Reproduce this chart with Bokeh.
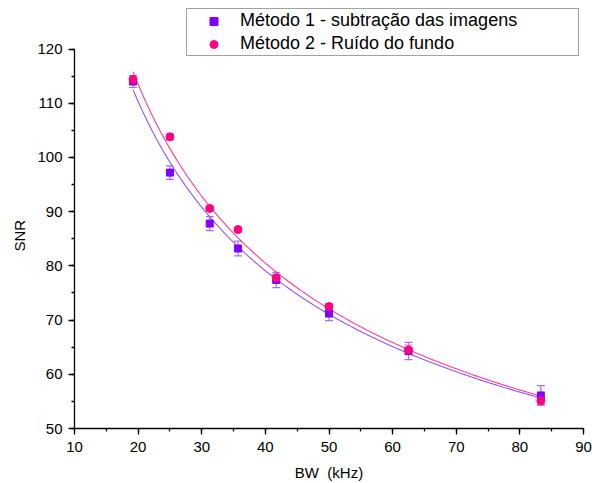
import numpy as np
from bokeh.plotting import figure
from bokeh.models import (Range1d, SingleIntervalTicker, Whisker, ColumnDataSource,
                          Legend, LegendItem, TeeHead, Title)
from bokeh.embed import file_html
from bokeh.resources import INLINE

# ---- data ----
bw = [19.2, 25.0, 31.25, 35.7, 41.7, 50.0, 62.5, 83.3]
snr_m1 = [114.0, 97.2, 87.8, 83.2, 77.4, 71.2, 64.3, 56.1]
err_m1 = [1.1, 1.25, 1.3, 1.35, 1.4, 1.3, 1.6, 1.8]
snr_m2 = [114.4, 103.8, 90.6, 86.7, 77.8, 72.5, 64.5, 55.1]
err_m2 = [0.7, 0.5, 0.4, 0.4, 0.6, 0.5, 0.9, 0.7]
# power-law fit curves  SNR = A * BW**B  (parameters)
fit_m1 = [464.7, -0.480]
fit_m2 = [501.0, -0.4956]
label_m1 = "Método 1 - subtração das imagens"
label_m2 = "Método 2 - Ruído do fundo"
x_label = "BW \u00a0(kHz)"
y_label = "SNR"

FONT = "Liberation Sans"
C1 = "#8000FF"
C2 = "#FF0080"
L1 = "#9650FF"
L2 = "#FF3C96"

W, H = 592, 483
FRAME_BOTTOM = 429
p = figure(width=W, height=H, output_backend="svg", toolbar_location=None,
           min_border_left=74, min_border_right=9, min_border_top=0,
           min_border_bottom=H - FRAME_BOTTOM)
p.x_range = Range1d(10, 90)
p.y_range = Range1d(50, 50 + FRAME_BOTTOM / 5.434)
p.outline_line_color = None
p.xgrid.visible = False
p.ygrid.visible = False
p.background_fill_color = "white"
p.border_fill_color = "white"

for ax, bounds in ((p.xaxis, (10, 90)), (p.yaxis, (50, 120))):
    ax.ticker = SingleIntervalTicker(interval=10, num_minor_ticks=2)
    ax.bounds = bounds
    ax.axis_line_color = "black"
    ax.axis_line_width = 1.3
    ax.major_tick_line_color = "black"
    ax.major_tick_line_width = 1.3
    ax.minor_tick_line_color = "black"
    ax.minor_tick_line_width = 1.3
    ax.major_tick_in = 0
    ax.major_tick_out = 6
    ax.minor_tick_in = 0
    ax.minor_tick_out = 3
    ax.major_label_text_font = FONT
    ax.major_label_text_font_size = "15px"
    ax.major_label_text_color = "black"
    ax.axis_label_text_font = FONT
    ax.axis_label_text_font_size = "15px"
    ax.axis_label_text_font_style = "normal"
    ax.axis_label_text_color = "black"

p.xaxis.axis_label = x_label
p.xaxis.major_label_standoff = 7
p.xaxis.axis_label_standoff = 9
p.yaxis.major_label_standoff = 6

# y-axis title centred on the drawn axis (50..120) rather than on the whole frame
ytitle = Title(text=y_label, align="left", vertical_align="top", offset=177,
               standoff=10, text_font=FONT, text_font_size="15px",
               text_font_style="normal", text_color="black")
p.add_layout(ytitle, "left")

# ---- fit curves ----
xs = np.linspace(min(bw), max(bw), 300)
fit1 = fit_m1[0] * xs ** fit_m1[1]
fit2 = fit_m2[0] * xs ** fit_m2[1]

p.line(xs, fit1, line_color=L1, line_width=1.1)
p.line(xs, fit2, line_color=L2, line_width=1.1)

src1 = ColumnDataSource(dict(x=bw, y=snr_m1,
                             lo=[v - e for v, e in zip(snr_m1, err_m1)],
                             hi=[v + e for v, e in zip(snr_m1, err_m1)]))
src2 = ColumnDataSource(dict(x=bw, y=snr_m2,
                             lo=[v - e for v, e in zip(snr_m2, err_m2)],
                             hi=[v + e for v, e in zip(snr_m2, err_m2)]))

for src, col in ((src1, "#A070FF"), (src2, "#FF60A8")):
    w = Whisker(source=src, base="x", lower="lo", upper="hi", line_color=col, line_width=1.2,
                upper_head=TeeHead(size=8, line_color=col, line_width=1.2),
                lower_head=TeeHead(size=8, line_color=col, line_width=1.2))
    p.add_layout(w)

r1 = p.scatter("x", "y", source=src1, marker="square", size=7, fill_color=C1, line_color=C1)
r2 = p.scatter("x", "y", source=src2, marker="circle", size=8, fill_color=C2, line_color=C2)

legend = Legend(items=[LegendItem(label=label_m1, renderers=[r1]),
                       LegendItem(label=label_m2, renderers=[r2])],
                location=(112, 372), orientation="vertical",
                label_text_font=FONT, label_text_font_size="18px", label_text_color="black",
                glyph_width=51, glyph_height=20, label_height=20, label_width=337,
                label_standoff=1, spacing=2, padding=1, margin=0,
                border_line_color="#444444", border_line_width=1.3,
                background_fill_color="white", background_fill_alpha=1)
p.add_layout(legend)

open("out.html", "w").write(file_html(p, INLINE))
